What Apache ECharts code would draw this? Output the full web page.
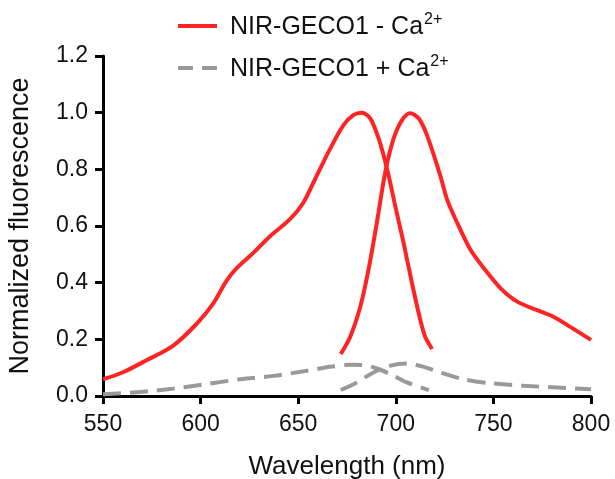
<!DOCTYPE html>
<html lang="en">
<head>
    <meta charset="UTF-8">
    <title>NIR-GECO1 spectra</title>
    <style>
        *{ margin: 0; padding: 0; }
        body{ background: #fff; }
        #chart{ width: 615px; height: 479px; }
    </style>
</head>
<body>
    <div id="chart"></div>
    <script src="https://cdn.jsdelivr.net/npm/echarts@6/dist/echarts.min.js"></script>
    <script>
        // -Ca2+ excitation (left red) and emission (right red)
        var minusExWl  = [550, 560, 572, 586, 598, 606.5, 613, 618.5, 627, 635.6, 645.8, 652.7, 659.5, 666.4, 673.2, 678.4, 682.6, 686.9, 691.2, 695.5, 699.7, 704, 708.3, 712.6, 715.1, 718.6];
        var minusExVal = [0.059, 0.083, 0.125, 0.178, 0.255, 0.327, 0.404, 0.451, 0.505, 0.564, 0.624, 0.683, 0.778, 0.873, 0.956, 0.992, 1.0, 0.98, 0.909, 0.802, 0.671, 0.54, 0.398, 0.267, 0.208, 0.166];
        var minusEmWl  = [671.8, 676.6, 681.8, 686, 690.3, 694.6, 698.9, 703.2, 707.4, 711.7, 716, 722.8, 726.2, 731.4, 738.2, 745.1, 753.7, 762.2, 772.5, 781, 789.6, 800];
        var minusEmVal = [0.148, 0.208, 0.315, 0.445, 0.612, 0.79, 0.909, 0.974, 0.998, 0.98, 0.92, 0.778, 0.695, 0.612, 0.517, 0.451, 0.38, 0.333, 0.303, 0.279, 0.243, 0.198];
        // +Ca2+ excitation and emission (grey dashed)
        var plusExWl  = [550, 568.8, 585.9, 603, 620.2, 637.3, 654.4, 666.4, 676.6, 683.5, 690.3, 697.2, 705.7, 716.9];
        var plusExVal = [0.006, 0.014, 0.026, 0.042, 0.059, 0.071, 0.089, 0.103, 0.11, 0.109, 0.097, 0.077, 0.048, 0.021];
        var plusEmWl  = [671.8, 680, 688.6, 697.2, 705.7, 714.3, 722.8, 734.8, 748.5, 765.6, 782.7, 800];
        var plusEmVal = [0.021, 0.048, 0.083, 0.107, 0.115, 0.103, 0.083, 0.059, 0.045, 0.036, 0.03, 0.024];

        var xTicks = [550, 600, 650, 700, 750, 800];

        var nameMinus = 'minus';
        var namePlus = 'plus';

        function zip(xs, ys){
            return xs.map(function(x, i){ return [x, ys[i]]; });
        }

        var red = '#ff2424';
        var grey = '#999999';
        var font = 'Liberation Sans, Arial, sans-serif';

        function redLine(data){
            return {
                name: nameMinus, type: 'line', data: data, smooth: 0.3,
                symbol: 'none', lineStyle: { color: red, width: 4 }, itemStyle: { color: red }
            };
        }
        function greyLine(data){
            return {
                name: namePlus, type: 'line', data: data, smooth: 0.3,
                symbol: 'none', lineStyle: { color: grey, width: 4, type: [18, 9] }, itemStyle: { color: grey }
            };
        }

        var chart = echarts.init(document.getElementById('chart'));
        chart.setOption({
            animation: false,
            grid: { left: 103, right: 24, top: 56, bottom: 83, outerBoundsMode: 'none', containLabel: false },
            legend: {
                orient: 'vertical', left: 173, top: 7, itemGap: 14,
                itemWidth: 39, itemHeight: 4,
                data: [
                    { name: nameMinus, icon: 'rect' },
                    { name: namePlus, icon: 'path://M0,0h15v4h-15z M24,0h15v4h-15z' }
                ],
                formatter: function(n){
                    return n === nameMinus ? '{t|NIR-GECO1 - Ca}{s|2+}' : '{t|NIR-GECO1 + Ca}{s|2+}';
                },
                textStyle: {
                    padding: [0, 0, 0, 8],
                    rich: {
                        t: { fontFamily: font, fontSize: 25, color: '#111', verticalAlign: 'bottom', lineHeight: 28 },
                        s: { fontFamily: font, fontSize: 16, color: '#111', verticalAlign: 'top', lineHeight: 28, padding: [0, 0, 8, 1] }
                    }
                }
            },
            xAxis: {
                type: 'value', min: 550, max: 800, interval: 50,
                name: 'Wavelength (nm)', nameLocation: 'middle', nameGap: 58,
                nameTextStyle: { fontFamily: font, fontSize: 26, color: '#111' },
                axisLine: { lineStyle: { color: '#000', width: 3 } },
                axisTick: { length: 8, lineStyle: { color: '#000', width: 3 } },
                axisLabel: { fontFamily: font, fontSize: 23, color: '#111', margin: 17,
                    formatter: function(v){ return xTicks.indexOf(v) >= 0 ? String(v) : ''; } },
                splitLine: { show: false }
            },
            yAxis: {
                type: 'value', min: 0, max: 1.2, interval: 0.2,
                name: 'Normalized fluorescence', nameLocation: 'middle', nameGap: 69,
                nameTextStyle: { fontFamily: font, fontSize: 27, color: '#111' },
                axisLine: { show: true, lineStyle: { color: '#000', width: 3 } },
                axisTick: { show: true, length: 8, lineStyle: { color: '#000', width: 3 } },
                axisLabel: { fontFamily: font, fontSize: 23, color: '#111', margin: 15,
                    formatter: function(v){ return v.toFixed(1); } },
                splitLine: { show: false }
            },
            series: [
                greyLine(zip(plusExWl, plusExVal)),
                greyLine(zip(plusEmWl, plusEmVal)),
                redLine(zip(minusExWl, minusExVal)),
                redLine(zip(minusEmWl, minusEmVal))
            ]
        });
    </script>
</body>
</html>
